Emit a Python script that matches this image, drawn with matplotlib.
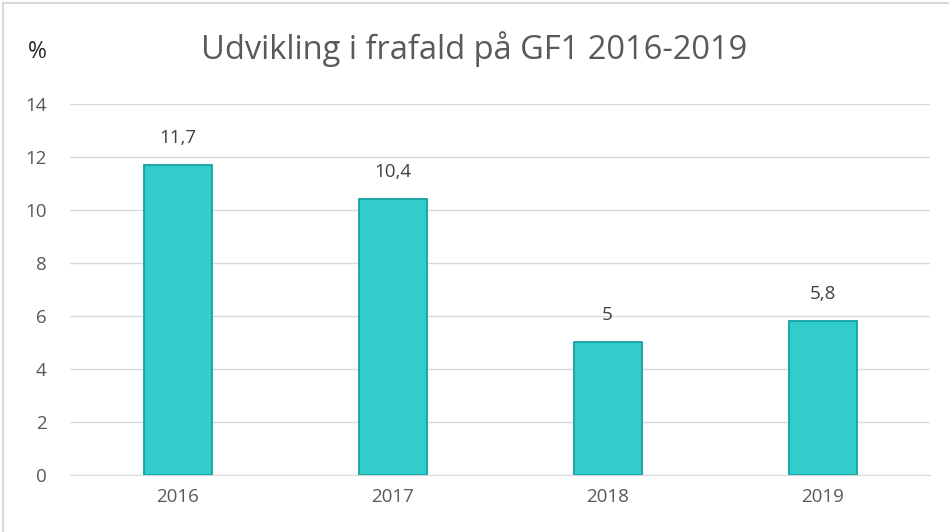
import matplotlib
matplotlib.use("Agg")
import matplotlib.pyplot as plt
from matplotlib.patches import Rectangle

# Data
years = ['2016', '2017', '2018', '2019']
dropout = [11.7, 10.4, 5.0, 5.8]
labels = ['11,7', '10,4', '5', '5,8']
yticks = [0, 2, 4, 6, 8, 10, 12, 14]

plt.rcParams['font.family'] = ['Open Sans', 'DejaVu Sans']
text_col = '#595959'

fig = plt.figure(figsize=(9.49, 5.32), dpi=100)
ax = fig.add_axes([0.074, 0.107, 0.906, 0.698])

# light border round the chart
fig.patches.append(Rectangle((0.003, -0.01), 1.2, 1.004, transform=fig.transFigure,
                             fill=False, edgecolor='#D9D9D9', linewidth=1.5))

x = range(len(years))
ax.bar(x, dropout, width=0.316, color='#33CCCC', edgecolor='#13A3A3', linewidth=1.3, zorder=3)
for xi, v, lab in zip(x, dropout, labels):
    ax.annotate(lab, (xi, v), xytext=(0, 13), textcoords='offset points',
                ha='center', va='bottom', fontsize=13.5, color='#404040')

ax.set_xlim(-0.5, 3.5)
ax.set_ylim(0, 14)
ax.set_yticks(yticks)
ax.set_xticks(list(x))
ax.set_xticklabels(years)
ax.grid(axis='y', color='#D9D9D9', linewidth=1, zorder=0)
for s in ['top', 'right', 'left']:
    ax.spines[s].set_visible(False)
ax.spines['bottom'].set_color('#D9D9D9')
ax.tick_params(length=0, labelsize=13.5, colors=text_col)
ax.tick_params(axis='x', pad=9)
ax.tick_params(axis='y', pad=17)

fig.text(0.5, 0.907, 'Udvikling i frafald på GF1 2016-2019', ha='center', va='center',
         fontsize=23.5, color=text_col)
fig.text(0.039, 0.902, '%', ha='center', va='center', fontsize=16.5, color='#262626')

fig.savefig('out.png', dpi=100)
